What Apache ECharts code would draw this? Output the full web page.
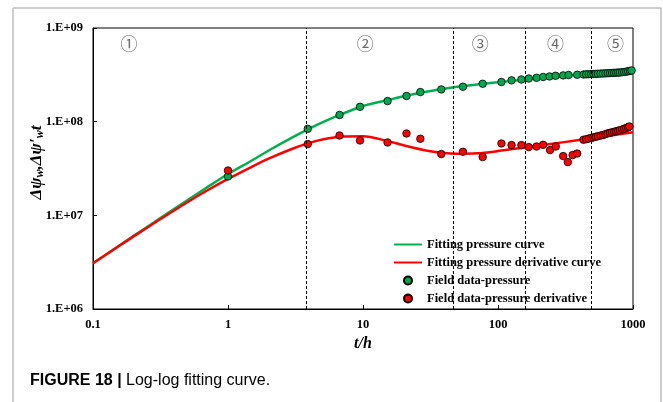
<!DOCTYPE html>
<html>
<head>
<meta charset="utf-8">
<script src="https://cdn.jsdelivr.net/npm/echarts@6/dist/echarts.min.js"></script>
<style>
html,body{margin:0;padding:0;background:#fff;}
#chart{width:663px;height:402px;}
</style>
</head>
<body>
<div id="chart"></div>
<script>
// ---- data ----
const xTickLabels = ['0.1', '1', '10', '100', '1000'];
const yTickLabels = ['1.E+06', '1.E+07', '1.E+08', '1.E+09'];

// fitted curves
const fitT = [0.1, 0.2, 0.3, 0.5, 0.7, 1, 1.5, 2, 3, 4, 5, 7, 10, 15, 20, 30, 40, 50, 70, 100, 150, 200, 300, 500, 700, 1000];
const fitPressure = [3.08e6, 6.04e6, 8.9e6, 1.45e7, 1.99e7, 2.76e7, 3.85e7, 4.92e7, 6.8e7, 8.45e7, 9.84e7, 1.21e8, 1.47e8, 1.69e8, 1.87e8, 2.10e8, 2.25e8, 2.355e8, 2.50e8, 2.63e8, 2.79e8, 2.90e8, 3.05e8, 3.24e8, 3.37e8, 3.51e8];
const fitDerivative = [3.08e6, 5.96e6, 8.69e6, 1.38e7, 1.84e7, 2.45e7, 3.30e7, 4.03e7, 5.14e7, 5.93e7, 6.46e7, 6.95e7, 7.0e7, 6.24e7, 5.60e7, 4.90e7, 4.62e7, 4.54e7, 4.59e7, 4.85e7, 5.24e7, 5.55e7, 6.01e7, 6.65e7, 7.15e7, 7.73e7];

// field data - pressure
const fieldPT = [1, 3.9, 6.7, 9.5, 15.2, 21, 26.6, 38, 55, 77, 106, 126, 149, 169, 193, 216, 241, 267, 304, 333, 386,
  430, 450, 470, 490, 510, 530, 550, 575, 600, 625, 650, 675, 700, 725, 750, 775, 800, 830, 860, 890, 920, 950, 977];
const fieldP = [2.6e7, 8.39e7, 1.18e8, 1.44e8, 1.66e8, 1.88e8, 2.07e8, 2.21e8, 2.36e8, 2.54e8, 2.65e8, 2.76e8, 2.82e8, 2.89e8, 2.94e8, 3.0e8, 3.04e8, 3.09e8, 3.12e8, 3.15e8, 3.17e8,
  3.19e8, 3.2e8, 3.21e8, 3.22e8, 3.23e8, 3.24e8, 3.25e8, 3.26e8, 3.27e8, 3.28e8, 3.29e8, 3.3e8, 3.31e8, 3.32e8, 3.33e8, 3.34e8, 3.35e8, 3.37e8, 3.39e8, 3.42e8, 3.45e8, 3.48e8, 3.52e8];

// field data - pressure derivative
const fieldDT = [1, 3.9, 6.7, 9.5, 15.2, 21, 26.6, 38, 55, 77, 106, 126, 149, 169, 193, 216, 243, 268, 304, 329, 357, 386,
  430, 450, 470, 490, 510, 530, 550, 575, 600, 625, 650, 675, 700, 725, 750, 775, 800, 830, 860, 890, 920, 940];
const fieldD = [3.01e7, 5.76e7, 7.12e7, 6.3e7, 6.0e7, 7.48e7, 6.57e7, 4.51e7, 4.77e7, 4.19e7, 5.85e7, 5.62e7, 5.62e7, 5.35e7, 5.43e7, 5.66e7, 4.97e7, 5.43e7, 4.29e7, 3.7e7, 4.4e7, 4.57e7,
  6.41e7, 6.5e7, 6.6e7, 6.7e7, 6.8e7, 6.9e7, 7.0e7, 7.1e7, 7.2e7, 7.35e7, 7.5e7, 7.6e7, 7.7e7, 7.8e7, 7.9e7, 8.0e7, 8.1e7, 8.25e7, 8.4e7, 8.55e7, 8.7e7, 8.89e7];

// flow-regime boundaries and labels
const boundaryT = [3.8, 47, 158, 492];
const regionLabels = ['①', '②', '③', '④', '⑤'];
const regionLabelT = [0.185, 10.4, 74, 267, 743];
const regionLabelV = 6.9e8;

const zip = (a, b) => a.map((v, i) => [v, b[i]]);
const serif = 'Liberation Serif, Times New Roman, serif';

const chart = echarts.init(document.getElementById('chart'), null, {renderer: 'canvas'});
chart.setOption({
  animation: false,
  backgroundColor: '#fff',
  grid: {left: 93, right: 30, top: 28, bottom: 93, show: true, borderColor: '#000', borderWidth: 1, backgroundColor: 'transparent'},
  xAxis: {
    type: 'log', logBase: 10, min: 0.1, max: 1000,
    name: 't/h', nameLocation: 'middle', nameGap: 21,
    nameTextStyle: {fontFamily: serif, fontStyle: 'italic', fontWeight: 'bold', fontSize: 16, color: '#000'},
    axisLine: {show: true, lineStyle: {color: '#000', width: 1}},
    axisTick: {show: true, inside: true, length: 4, lineStyle: {color: '#000'}},
    minorTick: {show: false},
    splitLine: {show: false},
    axisLabel: {
      margin: 9, color: '#000', fontFamily: serif, fontWeight: 'bold', fontSize: 12.5,
      formatter: v => xTickLabels[Math.round(Math.log10(v)) + 1]
    }
  },
  yAxis: {
    type: 'log', logBase: 10, min: 1e6, max: 1e9,
    name: '{i|Δψ}{s|w}{i|,Δψ\u2032}{s|w}{i|t}', nameLocation: 'middle', nameGap: 47, nameRotate: 90,
    nameMoveOverlap: false,
    nameTextStyle: {
      color: '#000', padding: [0, 0, 0, 12],
      rich: {
        i: {fontFamily: serif, fontStyle: 'italic', fontWeight: 'bold', fontSize: 17, color: '#000'},
        s: {fontFamily: serif, fontStyle: 'italic', fontWeight: 'bold', fontSize: 12, color: '#000', verticalAlign: 'bottom', padding: [7, 0, 0, 0]}
      }
    },
    axisLine: {show: true, lineStyle: {color: '#000', width: 1}},
    axisTick: {show: true, inside: true, length: 4, lineStyle: {color: '#000'}},
    splitLine: {show: false},
    axisLabel: {
      margin: 10, color: '#000', fontFamily: serif, fontWeight: 'bold', fontSize: 12.5,
      formatter: v => yTickLabels[Math.round(Math.log10(v)) - 6]
    }
  },
  legend: {
    orient: 'vertical', left: 388, top: 233, itemWidth: 28, itemHeight: 8, itemGap: 5,
    textStyle: {fontFamily: serif, fontWeight: 'bold', fontSize: 12.5, color: '#000'},
    data: [
      {name: 'Fitting pressure curve', itemStyle: {opacity: 0}},
      {name: 'Fitting pressure derivative curve', itemStyle: {opacity: 0}},
      {name: 'Field data-pressure', icon: 'circle'},
      {name: 'Field data-pressure derivative', icon: 'circle'}
    ]
  },
  series: [
    {
      name: 'Fitting pressure curve', type: 'line', data: zip(fitT, fitPressure),
      smooth: 0.3, symbol: 'none', showSymbol: false, z: 3,
      lineStyle: {color: '#00B050', width: 2.5}, itemStyle: {color: '#00B050'},
      markLine: {
        silent: true, symbol: ['none', 'none'], label: {show: false},
        lineStyle: {color: '#000', type: [3, 2], width: 1},
        data: boundaryT.map(t => ({xAxis: t}))
      }
    },
    {
      name: 'Fitting pressure derivative curve', type: 'line', data: zip(fitT, fitDerivative),
      smooth: 0.3, symbol: 'none', showSymbol: false, z: 3,
      lineStyle: {color: '#FF0000', width: 2.5}, itemStyle: {color: '#FF0000'}
    },
    {
      name: 'Field data-pressure', type: 'scatter', data: zip(fieldPT, fieldP), z: 4,
      symbol: 'circle', symbolSize: 7.5,
      itemStyle: {color: '#00A84F', borderColor: '#000', borderWidth: 0.8, opacity: 1}
    },
    {
      name: 'Field data-pressure derivative', type: 'scatter', data: zip(fieldDT, fieldD), z: 4,
      symbol: 'circle', symbolSize: 7.5,
      itemStyle: {color: '#FF0000', borderColor: '#000', borderWidth: 0.8, opacity: 1}
    },
    {
      name: 'regions', type: 'scatter', symbol: 'circle', symbolSize: 2, silent: true, z: 5,
      itemStyle: {color: 'rgba(0,0,0,0)'},
      labelLayout: {hideOverlap: false},
      data: regionLabelT.map((t, i) => ({value: [t, regionLabelV], label: {formatter: regionLabels[i]}})),
      label: {show: true, position: 'inside', fontFamily: 'Noto Sans CJK SC', fontSize: 17, color: '#444'}
    }
  ],
  graphic: [
    {type: 'line', shape: {x1: 13, y1: 8, x2: 661, y2: 8}, style: {stroke: '#bdbdbd', lineWidth: 1.5}, silent: true},
    {type: 'line', shape: {x1: 13, y1: 8, x2: 13, y2: 402}, style: {stroke: '#bdbdbd', lineWidth: 1.5}, silent: true},
    {type: 'line', shape: {x1: 661, y1: 8, x2: 661, y2: 402}, style: {stroke: '#bdbdbd', lineWidth: 1.5}, silent: true},
    {
      type: 'text', left: 30, top: 373, silent: true,
      style: {
        text: '{b|FIGURE 18 | }{r|Log-log fitting curve.}',
        rich: {
          b: {fontFamily: 'Liberation Sans, Arial, sans-serif', fontWeight: 'bold', fontSize: 16, fill: '#000'},
          r: {fontFamily: 'Liberation Sans, Arial, sans-serif', fontSize: 16, fill: '#000'}
        }
      }
    }
  ]
});
</script>
</body>
</html>
